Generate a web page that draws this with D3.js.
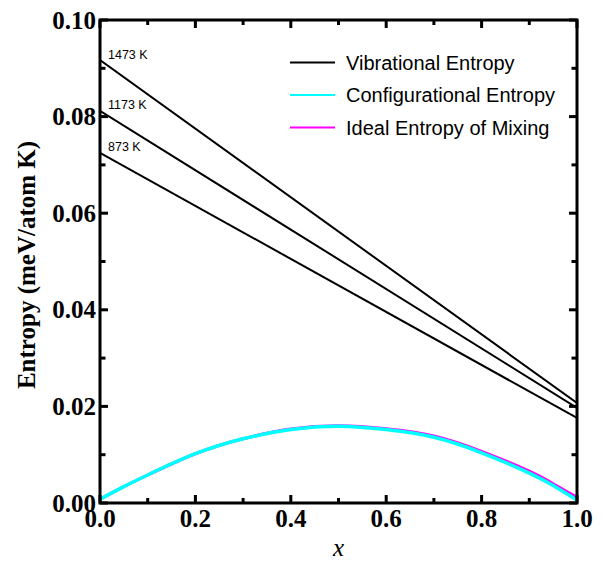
<!DOCTYPE html>
<html>
<head>
<meta charset="utf-8">
<script src="https://cdn.jsdelivr.net/npm/d3@7"></script>
<style>
  body { margin: 0; background: #fff; }
  svg { display: block; }
</style>
</head>
<body>
<svg id="chart" width="605" height="562"></svg>
<script>
// vibrational entropy lines, values at x=0 and x=1
var temps = ["1473 K", "1173 K", "873 K"];
var vibStart = [0.0917, 0.0812, 0.0725];
var vibEnd = [0.0207, 0.0197, 0.0176];

var curveX = [0, 0.05, 0.1, 0.2, 0.3, 0.4, 0.5, 0.6, 0.7, 0.8, 0.9, 0.95, 1];
var configVals = [0.0008, 0.0034, 0.0058, 0.0102, 0.0133, 0.0152, 0.0159, 0.0152, 0.0136, 0.0104, 0.0062, 0.0036, 0.0006];
var idealVals = [0.0008, 0.0034, 0.0058, 0.0102, 0.0133, 0.0153, 0.0160, 0.0154, 0.0139, 0.0107, 0.0066, 0.0040, 0.0012];

var xTicks = [0, 0.2, 0.4, 0.6, 0.8, 1.0];
var xMinor = [0.1, 0.3, 0.5, 0.7, 0.9];
var yTicks = [0, 0.02, 0.04, 0.06, 0.08, 0.10];
var yMinor = [0.01, 0.03, 0.05, 0.07, 0.09];

var legendNames = ["Vibrational Entropy", "Configurational Entropy", "Ideal Entropy of Mixing"];
var legendColors = ["#000000", "#00ffff", "#ff00ff"];

var serif = "Liberation Serif, Times New Roman, serif";
var sans = "Liberation Sans, Arial, sans-serif";

function drawChart() {
    var svg = d3.select("svg#chart");
    var x0 = 100, x1 = 577, y0 = 20, y1 = 503;

    var sx = d3.scaleLinear().domain([0, 1]).range([x0, x1]);
    var sy = d3.scaleLinear().domain([0, 0.1]).range([y1, y0]);

    svg.append("clipPath").attr("id", "plotclip")
        .append("rect")
        .attr("x", x0).attr("y", y0)
        .attr("width", x1 - x0).attr("height", y1 - y0);

    var plot = svg.append("g").attr("clip-path", "url(#plotclip)");

    var line = d3.line()
                 .x(d => sx(d[0]))
                 .y(d => sy(d[1]))
                 .curve(d3.curveNatural);

    plot.append("path")
        .datum(curveX.map((x, i) => [x, idealVals[i]]))
        .attr("d", line)
        .attr("fill", "none")
        .attr("stroke", "#ff00ff")
        .attr("stroke-width", 3);

    plot.append("path")
        .datum(curveX.map((x, i) => [x, configVals[i]]))
        .attr("d", line)
        .attr("fill", "none")
        .attr("stroke", "#00ffff")
        .attr("stroke-width", 3.5);

    plot.selectAll("line.vib")
        .data(temps)
        .enter()
        .append("line")
        .attr("class", "vib")
        .attr("x1", sx(0))
        .attr("y1", (d, i) => sy(vibStart[i]))
        .attr("x2", sx(1))
        .attr("y2", (d, i) => sy(vibEnd[i]))
        .attr("stroke", "#000")
        .attr("stroke-width", 2);

    svg.selectAll("text.temp")
        .data(temps)
        .enter()
        .append("text")
        .attr("class", "temp")
        .attr("x", sx(0) + 8)
        .attr("y", (d, i) => sy(vibStart[i]) - 1.5)
        .attr("font-family", sans)
        .attr("font-size", 12.5)
        .text(d => d);

    svg.append("rect")
        .attr("x", x0).attr("y", y0)
        .attr("width", x1 - x0).attr("height", y1 - y0)
        .attr("fill", "none")
        .attr("stroke", "#000")
        .attr("stroke-width", 3);

    // inward ticks on all four sides, as small filled rects
    var xt = xTicks.map(d => ({v: d, len: 8})).concat(xMinor.map(d => ({v: d, len: 5})));
    var yt = yTicks.map(d => ({v: d, len: 8})).concat(yMinor.map(d => ({v: d, len: 5.5})));
    var tw = 3;

    svg.selectAll("rect.xtb").data(xt).enter().append("rect")
        .attr("class", "xtb")
        .attr("x", d => sx(d.v) - tw / 2).attr("y", d => y1 - d.len)
        .attr("width", tw).attr("height", d => d.len)
        .attr("fill", "#000");
    svg.selectAll("rect.xtt").data(xt).enter().append("rect")
        .attr("class", "xtt")
        .attr("x", d => sx(d.v) - tw / 2).attr("y", y0)
        .attr("width", tw).attr("height", d => d.len)
        .attr("fill", "#000");
    svg.selectAll("rect.ytl").data(yt).enter().append("rect")
        .attr("class", "ytl")
        .attr("x", x0).attr("y", d => sy(d.v) - tw / 2)
        .attr("width", d => d.len).attr("height", tw)
        .attr("fill", "#000");
    svg.selectAll("rect.ytr").data(yt).enter().append("rect")
        .attr("class", "ytr")
        .attr("x", d => x1 - d.len).attr("y", d => sy(d.v) - tw / 2)
        .attr("width", d => d.len).attr("height", tw)
        .attr("fill", "#000");

    svg.selectAll("text.xtick")
        .data(xTicks)
        .enter()
        .append("text")
        .attr("class", "xtick")
        .attr("x", d => sx(d))
        .attr("y", 527)
        .attr("text-anchor", "middle")
        .attr("font-family", serif)
        .attr("font-weight", "bold")
        .attr("font-size", 25)
        .text(d3.format(".1f"));

    svg.selectAll("text.ytick")
        .data(yTicks)
        .enter()
        .append("text")
        .attr("class", "ytick")
        .attr("x", 96)
        .attr("y", d => sy(d))
        .attr("dy", "0.34em")
        .attr("text-anchor", "end")
        .attr("font-family", serif)
        .attr("font-weight", "bold")
        .attr("font-size", 25)
        .text(d3.format(".2f"));

    // legend
    var leg = svg.append("g").attr("transform", "translate(290,62.5)");
    leg.selectAll("line")
        .data(legendNames)
        .enter()
        .append("line")
        .attr("x1", 0).attr("x2", 45)
        .attr("y1", (d, i) => i * 32.5)
        .attr("y2", (d, i) => i * 32.5)
        .attr("stroke", (d, i) => legendColors[i])
        .attr("stroke-width", 2);
    leg.selectAll("text")
        .data(legendNames)
        .enter()
        .append("text")
        .attr("x", 56)
        .attr("y", (d, i) => i * 32.5)
        .attr("dy", "0.35em")
        .attr("font-family", sans)
        .attr("font-size", 20)
        .text(d => d);

    // titles
    svg.append("text")
        .attr("transform", "translate(35,265) rotate(-90)")
        .attr("text-anchor", "middle")
        .attr("font-family", serif)
        .attr("font-weight", "bold")
        .attr("font-size", 25)
        .text("Entropy (meV/atom K)");

    svg.append("text")
        .attr("x", (x0 + x1) / 2)
        .attr("y", 556)
        .attr("text-anchor", "middle")
        .attr("font-family", serif)
        .attr("font-style", "italic")
        .attr("font-size", 25)
        .text("x");
}

drawChart();
</script>
</body>
</html>
